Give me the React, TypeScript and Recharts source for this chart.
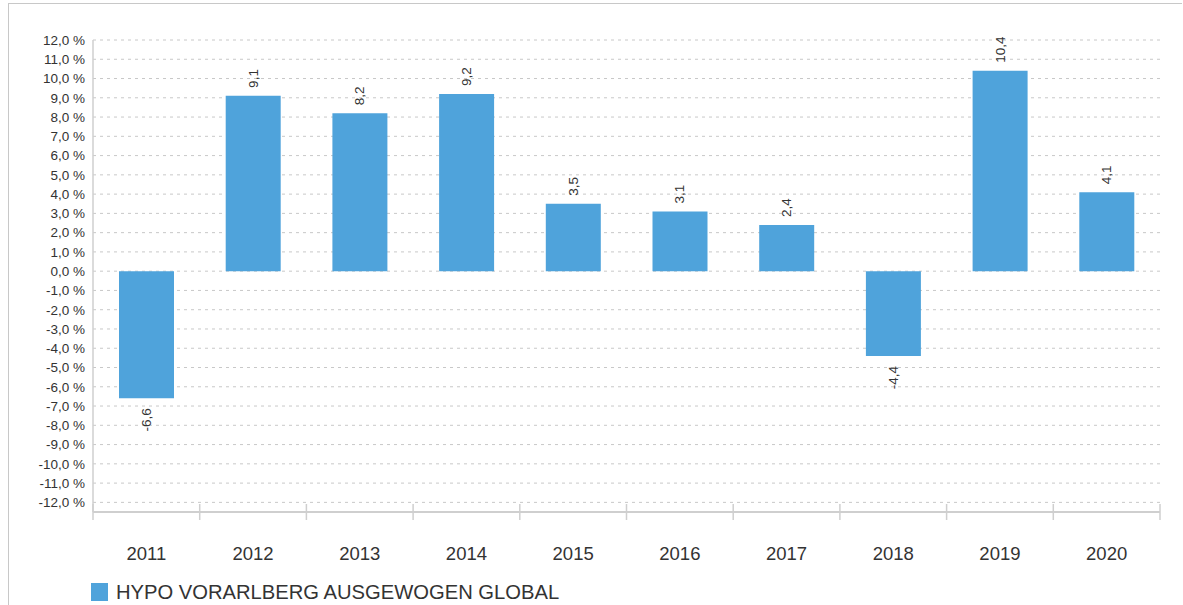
import { BarChart, Bar, XAxis, YAxis, CartesianGrid, LabelList } from 'recharts';

const years = ['2011', '2012', '2013', '2014', '2015', '2016', '2017', '2018', '2019', '2020'];
const returns = [-6.6, 9.1, 8.2, 9.2, 3.5, 3.1, 2.4, -4.4, 10.4, 4.1];
const yTicks = [-12, -11, -10, -9, -8, -7, -6, -5, -4, -3, -2, -1, 0, 1, 2, 3, 4, 5, 6, 7, 8, 9, 10, 11, 12];
const seriesName = 'HYPO VORARLBERG AUSGEWOGEN GLOBAL';

const W = 1183;
const H = 605;
const MARGIN = { top: 40, right: 23, left: 0, bottom: 33 };
const Y_W = 93;
const X_H = 60;
const X_TICK_SIZE = 0;
const X_TICK_MARGIN = 35;
const BAND = (W - MARGIN.left - MARGIN.right - Y_W) / years.length;
const BAR_COLOR = '#4fa3db';
const AXIS_COLOR = '#cfcfcf';
const FONT = '"Liberation Sans", Arial, Helvetica, sans-serif';

const data = years.map((year, i) => ({ year, value: returns[i] }));

const fmtPct = (v: number) => `${v.toFixed(1).replace('.', ',')} %`;

function YearTick(props: any) {
  const { x, y, payload, index } = props;
  const axisY = y - X_TICK_SIZE - X_TICK_MARGIN;
  return (
    <g>
      <line x1={x - BAND / 2} x2={x - BAND / 2} y1={axisY - 8} y2={axisY + 8} stroke={AXIS_COLOR} strokeWidth={1.5} />
      {index === years.length - 1 && (
        <line x1={x + BAND / 2} x2={x + BAND / 2} y1={axisY - 8} y2={axisY + 8} stroke={AXIS_COLOR} strokeWidth={1.5} />
      )}
      <text x={x} y={y} dy="0.71em" textAnchor="middle" fill="#333" fontSize={18.5} fontFamily={FONT}>
        {payload.value}
      </text>
    </g>
  );
}

function ValueLabel(props: any) {
  const { x, y, width, height, value } = props;
  const top = Math.min(y, y + height);
  const bottom = Math.max(y, y + height);
  const cx = x + width / 2;
  const pos = value >= 0;
  const ly = pos ? top - 8 : bottom + 10;
  return (
    <text
      x={cx}
      y={ly}
      transform={`rotate(-90 ${cx} ${ly})`}
      textAnchor={pos ? 'start' : 'end'}
      dominantBaseline="central"
      fill="#333"
      fontSize={13.5}
      fontFamily={FONT}
    >
      {value.toFixed(1).replace('.', ',')}
    </text>
  );
}

export default function App() {
  return (
    <div style={{ position: 'absolute', left: 0, top: 0, width: W, height: H, background: '#fff', fontFamily: FONT }}>
      {/* outer frame */}
      <div
        style={{
          position: 'absolute',
          left: 8,
          top: 3,
          width: W - 10,
          height: H - 3,
          borderTop: '1.5px solid #c8c8c8',
          borderLeft: '1.5px solid #c8c8c8',
        }}
      />
      <BarChart width={W} height={H} data={data} margin={MARGIN} style={{ position: 'absolute', left: 0, top: 0 }}>
        <CartesianGrid vertical={false} stroke="#c8c8c8" strokeDasharray="3 4" />
        <XAxis
          dataKey="year"
          height={X_H}
          tickSize={X_TICK_SIZE}
          tickMargin={X_TICK_MARGIN}
          tickLine={false}
          axisLine={{ stroke: AXIS_COLOR, strokeWidth: 2 }}
          tick={<YearTick />}
          interval={0}
        />
        <YAxis
          width={Y_W}
          domain={[-12.5, 12]}
          ticks={yTicks}
          interval={0}
          tickFormatter={fmtPct}
          tickLine={false}
          axisLine={{ stroke: AXIS_COLOR, strokeWidth: 1.5 }}
          tick={{ fill: '#333', fontSize: 13.5, fontFamily: FONT }}
        />
        <Bar dataKey="value" fill={BAR_COLOR} barSize={55} isAnimationActive={false}>
          <LabelList dataKey="value" content={<ValueLabel />} />
        </Bar>
      </BarChart>
      {/* legend */}
      <div style={{ position: 'absolute', left: 91, top: 582, display: 'flex', alignItems: 'center' }}>
        <div style={{ width: 17, height: 18, background: BAR_COLOR, marginRight: 8 }} />
        <span style={{ fontSize: 20.2, color: '#333', lineHeight: '20px' }}>{seriesName}</span>
      </div>
    </div>
  );
}
